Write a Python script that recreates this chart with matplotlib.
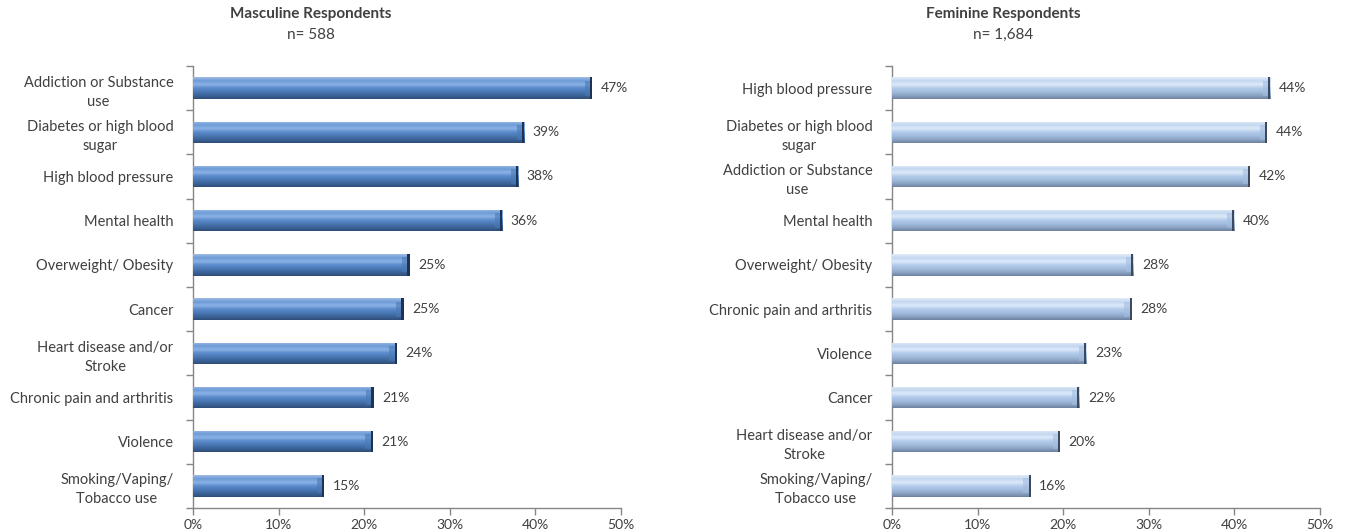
import numpy as np
import matplotlib
matplotlib.use("Agg")
import matplotlib.pyplot as plt
from matplotlib.colors import LinearSegmentedColormap

plt.rcParams['font.family'] = ['Lato', 'DejaVu Sans']

# ---- data ----
masc_title = "Masculine Respondents"
masc_n = "n= 588"
masc_categories = ["Addiction or Substance\nuse", "Diabetes or high blood\nsugar",
                   "High blood pressure", "Mental health", "Overweight/ Obesity",
                   "Cancer", "Heart disease and/or\nStroke", "Chronic pain and arthritis",
                   "Violence", "Smoking/Vaping/\nTobacco use"]
masc_values = [46.6, 38.7, 38.0, 36.1, 25.3, 24.6, 23.8, 21.1, 21.0, 15.3]

fem_title = "Feminine Respondents"
fem_n = "n= 1,684"
fem_categories = ["High blood pressure", "Diabetes or high blood\nsugar",
                  "Addiction or Substance\nuse", "Mental health", "Overweight/ Obesity",
                  "Chronic pain and arthritis", "Violence", "Cancer",
                  "Heart disease and/or\nStroke", "Smoking/Vaping/\nTobacco use"]
fem_values = [44.2, 43.8, 41.8, 40.0, 28.2, 28.0, 22.7, 21.9, 19.6, 16.2]

x_ticks = [0, 10, 20, 30, 40, 50]
x_ticklabels = ["0%", "10%", "20%", "30%", "40%", "50%"]

# ---- styles ----
masc_grad = ["#9DBBE3", "#6E9BD6", "#8BB2E6", "#5B8BCB", "#4A79B6", "#3C6499", "#2F4E78"]
fem_grad = ["#E2ECF8", "#C3D7F0", "#DCE9F9", "#B4CCEB", "#A3BDE0", "#8EA6C6", "#6E82A0"]
masc_end = "#1F3350"
fem_end = "#3E4A5C"
text_col = "#404040"
spine_col = "#868686"

fig = plt.figure(figsize=(13.5, 5.29), dpi=100)
ax_l = fig.add_axes([193/1350, 1 - 508/529, 428/1350, (508-66)/529])
ax_r = fig.add_axes([892/1350, 1 - 508/529, 428/1350, (508-66)/529])


def draw(ax, cats, vals, grad, endcol):
    n = len(cats)
    y = np.arange(n)
    h = 0.48
    bars = ax.barh(y, vals, height=h, color=grad[3], edgecolor='none', zorder=2)
    cmap = LinearSegmentedColormap.from_list("g", grad)
    gimg = np.linspace(0, 1, 64).reshape(-1, 1)
    for b, v in zip(bars, vals):
        x0, y0 = b.get_x(), b.get_y()
        w, hh = b.get_width(), b.get_height()
        im = ax.imshow(gimg, cmap=cmap, aspect='auto',
                       extent=[x0, x0 + w, y0 + hh, y0], zorder=3,
                       interpolation='bilinear')
        im.set_clip_path(b)
        # bevelled end
        ax.barh(b.get_y() + hh / 2, 0.25, left=x0 + w - 0.25, height=hh,
                color=endcol, edgecolor='none', zorder=4)
        ax.barh(b.get_y() + hh / 2, 0.6, left=x0 + w - 0.85, height=hh * 0.7,
                color=grad[4], alpha=0.6, edgecolor='none', zorder=4)
        ax.text(v + 1.0, b.get_y() + hh / 2, f"{v:.0f}%", va='center', ha='left',
                fontsize=10, color=text_col, zorder=5)
    ax.set_xlim(0, 50)
    ax.set_ylim(n - 0.5, -0.5)
    ax.set_xticks(x_ticks)
    ax.set_xticklabels(x_ticklabels, fontsize=10, color=text_col)
    ax.set_yticks(y)
    ax.set_yticklabels(cats, fontsize=10.5, color=text_col)
    for lab in ax.get_yticklabels():
        lab.set_multialignment('center')
        lab.set_linespacing(1.45)
    ax.set_yticks(np.arange(-0.5, n, 1.0), minor=True)
    ax.tick_params(axis='y', which='major', length=0, pad=14)
    ax.tick_params(axis='y', which='minor', length=5, color=spine_col, width=1)
    ax.tick_params(axis='x', length=5, color=spine_col, width=1, pad=3)
    for s in ['top', 'right']:
        ax.spines[s].set_visible(False)
    for s in ['left', 'bottom']:
        ax.spines[s].set_color(spine_col)
        ax.spines[s].set_linewidth(1)


draw(ax_l, masc_categories, masc_values, masc_grad, masc_end)
draw(ax_r, fem_categories, fem_values, fem_grad, fem_end)

fig.text(311/1350, 1 - 14/529, masc_title, ha='center', va='center',
         fontsize=11, fontweight='bold', color=text_col)
fig.text(311/1350, 1 - 35/529, masc_n, ha='center', va='center',
         fontsize=11, color=text_col)
fig.text(1003/1350, 1 - 14/529, fem_title, ha='center', va='center',
         fontsize=11, fontweight='bold', color=text_col)
fig.text(1003/1350, 1 - 35/529, fem_n, ha='center', va='center',
         fontsize=11, color=text_col)

fig.savefig("out.png", dpi=100)
